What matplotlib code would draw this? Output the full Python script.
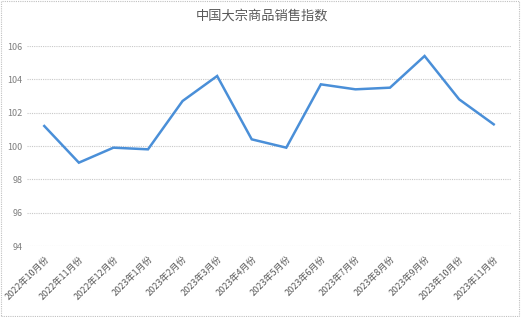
import matplotlib
matplotlib.use("Agg")
import matplotlib.pyplot as plt
from matplotlib.patches import Rectangle

plt.rcParams['font.family'] = ['Noto Sans CJK SC', 'DejaVu Sans']

title = "中国大宗商品销售指数"
months = ["2022年10月份", "2022年11月份", "2022年12月份", "2023年1月份", "2023年2月份",
          "2023年3月份", "2023年4月份", "2023年5月份", "2023年6月份", "2023年7月份",
          "2023年8月份", "2023年9月份", "2023年10月份", "2023年11月份"]
index_values = [101.2, 99.0, 99.9, 99.8, 102.7, 104.2, 100.4, 99.9, 103.7, 103.4,
                103.5, 105.4, 102.8, 101.3]
y_ticks = [94, 96, 98, 100, 102, 104, 106]

W, H = 521, 317
fig = plt.figure(figsize=(W / 100, H / 100), dpi=100)
ax = fig.add_axes([27 / W, 1 - 246 / H, (511 - 27) / W, 200 / H])

x = list(range(len(months)))
ax.plot(x, index_values, color="#4A8FD8", linewidth=1.8, solid_joinstyle="miter")

ax.set_xlim(-0.5, len(months) - 0.5)
ax.set_ylim(94, 106)
ax.set_yticks(y_ticks)
ax.set_yticklabels([str(v) for v in y_ticks], fontsize=6.5, color="#7f7f7f")
ax.set_xticks(x)
ax.set_xticklabels(months, rotation=45, ha="right", va="top", fontsize=6.5,
                   color="#595959", rotation_mode="anchor")
ax.tick_params(axis="both", length=0, pad=3)
ax.tick_params(axis="x", pad=6)
ax.grid(axis="y", color="#c8c8c8", linestyle=(0, (1, 1)), linewidth=0.8)
ax.set_axisbelow(True)
for s in ax.spines.values():
    s.set_visible(False)

fig.text(262 / W, 1 - 16 / H, title, ha="center", va="center", fontsize=9.5, color="#595959")

fig.patches.append(Rectangle((0.002, 0.003), 0.995, 0.994, transform=fig.transFigure,
                             fill=False, edgecolor="#c0c0c0", linestyle=(0, (1, 1)), linewidth=0.8))

fig.savefig("out.png", dpi=100, facecolor="white")
